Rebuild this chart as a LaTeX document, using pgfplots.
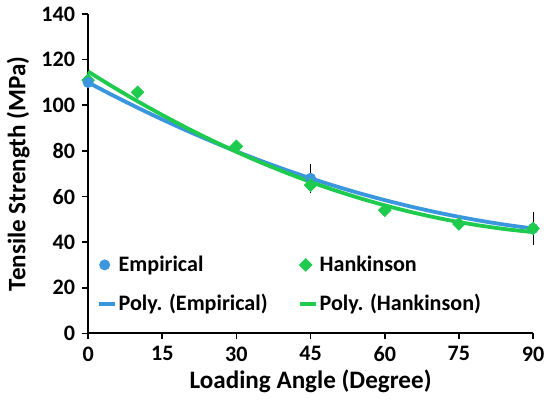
\documentclass[border=0pt]{standalone}
\usepackage{fontspec}
\setmainfont{Carlito}
\usepackage{pgfplots}
\pgfplotsset{compat=1.18}

\definecolor{empblue}{HTML}{3A96DD}
\definecolor{hankgreen}{HTML}{1ECB4F}

\pgfplotsset{
  shortline/.style={legend image code/.code={\draw[##1] (0pt,0pt) -- (8pt,0pt);}},
  shortmark/.style={legend image code/.code={\draw[mark repeat=2,mark phase=2,##1] plot coordinates {(0pt,0pt) (3pt,0pt) (6pt,0pt)};}},
}

\begin{document}
\begin{tikzpicture}
\begin{axis}[
  width=221.5pt,height=159pt,
  scale only axis,
  axis lines=left,
  axis line style={-,line width=1pt},
  xmin=0,xmax=90,ymin=0,ymax=140,
  xtick={0,15,...,90},
  ytick={0,20,...,140},
  tick align=outside,
  major tick length=3pt,
  tick style={line width=0.8pt,black},
  ticklabel style={font=\bfseries\fontsize{11}{13}\selectfont},
  /pgf/number format/assume math mode=true,
  xlabel={\bfseries Loading Angle (Degree)},
  ylabel={\bfseries Tensile Strength (MPa)},
  label style={font=\bfseries\fontsize{12.5}{14}\selectfont},
  xlabel style={yshift=3pt},
  ylabel style={yshift=-1pt},
  clip=false,
  legend columns=2,
  legend cell align=left,
  legend style={draw=none,fill=none,at={(0.005,0.27)},anchor=north west,
    font=\bfseries\fontsize{11}{13}\selectfont,
    /tikz/every even column/.append style={column sep=14pt},
    row sep=6pt,
    nodes={inner xsep=1pt}},
]
% Hankinson point at 0 sits under the Empirical point
\addplot[forget plot,only marks,mark=square*,mark size=2.2pt,mark options={rotate=45},color=hankgreen]
  coordinates {(0,111)};
\addplot[shortmark,only marks,mark=*,mark size=2.5pt,color=empblue,
  error bars/.cd,y dir=both,y explicit,
  error bar style={black,line width=0.6pt},error mark options={black,mark size=2pt,line width=0.6pt}]
  coordinates {(0,110) +- (0,1.5) (45,68) +- (0,4.5) (90,46) +- (0,5.5)};
\addlegendentry{Empirical}
\addplot[shortmark,only marks,mark=square*,mark size=2.2pt,mark options={rotate=45},color=hankgreen]
  coordinates {(10,105.7) (30,82) (45,65) (60,54) (75,48) (90,46)};
\addlegendentry{Hankinson}
\addplot[shortline,empblue,line width=1.9pt,smooth,no marks]
  coordinates {(0,110) (5,104.35) (10,98.94) (15,93.78) (20,88.86) (25,84.20)
  (30,79.78) (35,75.61) (40,71.68) (45,68.00) (50,64.57) (55,61.38) (60,58.44)
  (65,55.75) (70,53.31) (75,51.11) (80,49.16) (85,47.46) (90,46.00)};
\addlegendentry{Poly. (Empirical)}
\addplot[shortline,hankgreen,line width=1.9pt,smooth,no marks]
  coordinates {(0,114.79) (5,108.11) (10,101.76) (15,95.73) (20,90.03) (25,84.66)
  (30,79.61) (35,74.88) (40,70.49) (45,66.41) (50,62.67) (55,59.25) (60,56.15)
  (65,53.38) (70,50.94) (75,48.82) (80,47.03) (85,45.56) (90,44.42)};
\addlegendentry{Poly. (Hankinson)}
\end{axis}
\end{tikzpicture}
\end{document}
